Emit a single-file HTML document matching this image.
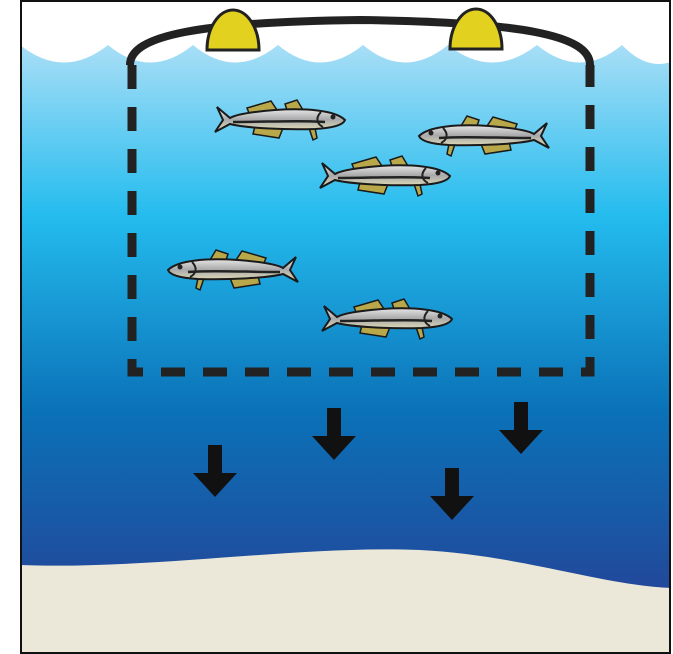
<!DOCTYPE html>
<html><head><meta charset="utf-8"><style>html,body{margin:0;padding:0;background:#fff}svg{display:block}</style></head>
<body>
<svg width="673" height="654" viewBox="0 0 673 654">
<defs>
<linearGradient id="water" x1="0" y1="0" x2="0" y2="1">
<stop offset="0" stop-color="#a8def6"/>
<stop offset="0.28" stop-color="#24bcee"/>
<stop offset="0.6" stop-color="#0a72b8"/>
<stop offset="1" stop-color="#2b3990"/>
</linearGradient>
<linearGradient id="body" x1="0" y1="0" x2="0" y2="1">
<stop offset="0" stop-color="#f4f4f4"/><stop offset="0.5" stop-color="#a9a9ab"/><stop offset="1" stop-color="#e8e3b8"/>
</linearGradient>
<g id="fish">
<path d="M42,-8 L48,-18 L60,-14 L58,-8Z" fill="#b8a84a" stroke="#1a1a1a" stroke-width="1.5"/>
<path d="M68,-8 L74,-17 L98,-10 L96,-5Z" fill="#b8a84a" stroke="#1a1a1a" stroke-width="1.5"/>
<path d="M62,10 L66,20 L92,16 L90,8Z" fill="#b8a84a" stroke="#1a1a1a" stroke-width="1.5"/>
<path d="M30,10 L28,20 L32,22 L36,10Z" fill="#b8a84a" stroke="#1a1a1a" stroke-width="1.5"/>
<path d="M0,2 C10,-8 40,-10 70,-8 C95,-6 110,-3 115,0 L128,-11 L122,2 L130,14 L115,6 C100,10 60,12 30,11 C12,10 2,7 0,2Z" fill="url(#body)" stroke="#1a1a1a" stroke-width="2"/>
<path d="M20,4 C40,2 80,4 112,4" fill="none" stroke="#222" stroke-width="2.5"/>
<path d="M24,-6 C30,0 28,6 22,9" fill="none" stroke="#222" stroke-width="2"/>
<circle cx="12" cy="-1" r="2.5" fill="#222"/>
</g>
<g id="arrow"><path d="M-7,0 H7 V28 H22 L0,52 L-22,28 H-7Z" fill="#111"/></g>
</defs>
<rect x="20" y="0" width="651" height="654" fill="#fff"/>
<path d="M20,45 Q64,80 108,45 Q150,80 193,45 Q235,80 278,45 Q320,80 363,45 Q405,80 448,45 Q492,80 537,45 Q580,80 622,45 Q646,70 671,62 V654 H20Z" fill="url(#water)"/>
<path d="M20,565 C150,570 300,545 420,550 C520,555 600,585 671,588 V654 H20Z" fill="#ebe8da"/>
<path d="M130,65 C130,35 200,22 360,20 C520,22 590,35 590,65" fill="none" stroke="#222" stroke-width="8"/>
<path d="M132,65 V372 H590 V65" fill="none" stroke="#222" stroke-width="9" stroke-dasharray="24,18"/>
<path d="M207,50 A26,40 0 0 1 259,50 Z" fill="#e2d21f" stroke="#222" stroke-width="3"/>
<path d="M450,49 A26,40 0 0 1 502,49 Z" fill="#e2d21f" stroke="#222" stroke-width="3"/>
<use href="#fish" transform="translate(345,118) scale(-1,1)"/>
<use href="#fish" transform="translate(419,134)"/>
<use href="#fish" transform="translate(450,174) scale(-1,1)"/>
<use href="#fish" transform="translate(168,268)"/>
<use href="#fish" transform="translate(452,317) scale(-1,1)"/>
<use href="#arrow" transform="translate(215,445)"/>
<use href="#arrow" transform="translate(334,408)"/>
<use href="#arrow" transform="translate(521,402)"/>
<use href="#arrow" transform="translate(452,468)"/>
<rect x="21" y="1" width="649" height="652" fill="none" stroke="#111" stroke-width="2"/>
</svg>
</body></html>
